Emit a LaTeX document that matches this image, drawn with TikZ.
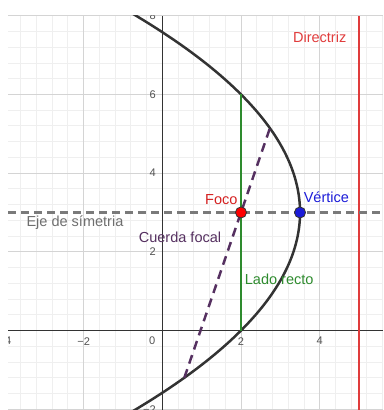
\documentclass[tikz,border=0pt]{standalone}
\usepackage{fontspec}
\setmainfont{Liberation Sans}
\usepackage{xcolor}
\definecolor{curvegray}{HTML}{333333}
\definecolor{minorgray}{HTML}{EFEFEF}
\definecolor{majorgray}{HTML}{D4D4D4}
\definecolor{dirred}{HTML}{E03C3C}
\definecolor{focred}{HTML}{D42020}
\definecolor{vertblue}{HTML}{1C1CD8}
\definecolor{lrgreen}{HTML}{2E8B2E}
\definecolor{chordpurple}{HTML}{553060}
\definecolor{axisgray}{HTML}{7A7A7A}

\begin{document}
\begin{tikzpicture}[
  minorgrid/.style={draw=minorgray,line width=0.6pt},
  majorgrid/.style={draw=majorgray,line width=0.7pt},
  axisline/.style={draw=curvegray,line width=0.7pt},
  ticklabel/.style={text=curvegray!85,font=\fontsize{8}{9}\selectfont,inner sep=0pt},
  curve/.style={draw=curvegray,line width=1.8pt},
  directrix/.style={draw=dirred,line width=1.5pt},
  latus/.style={draw=lrgreen,line width=1.5pt},
  symaxis/.style={draw=axisgray,line width=1.5pt,dash pattern=on 5.8pt off 3.6pt},
  chord/.style={draw=chordpurple,line width=1.8pt,dash pattern=on 6.5pt off 4.3pt},
  pt/.style={circle,draw=curvegray,line width=0.6pt,inner sep=0pt,minimum size=8pt},
  lbl/.style={font=\fontsize{10.5}{12}\selectfont,inner sep=1pt}
]
  \useasboundingbox (-4.125,-2.02) rectangle (5.61,8.40);
  \begin{scope}
  \clip (-3.92,-2.02) rectangle (5.61,8.0);
  % grid
  \draw[minorgrid] (-4.4,-2.4) grid[step=0.4] (5.61,8.0);
  \draw[majorgrid] (-4.4,-2.4) grid[step=2] (5.61,8.0);
  % axes
  \draw[axisline] (-3.92,0) -- (5.61,0);
  \draw[axisline] (0,-2.02) -- (0,8.0);
  % tick labels
  \foreach \xv/\xt in {-4/−4,-2/−2,2/2,4/4}
    \node[ticklabel] (tx\xv) at (\xv,-0.27) {\xt};
  \node[ticklabel] (t0) at (-0.26,-0.27) {0};
  \foreach \yv/\yt in {-2/−2,2/2,4/4,6/6,8/8}
    \node[ticklabel,anchor=east] (ty\yv) at (-0.16,\yv) {\yt};
  % parabola
  \draw[curve,domain=-2.3:8.3,samples=80,smooth] plot ({3.5-(\x-3)^2/6},\x);
  \end{scope}

  % key points
  \coordinate (F) at (2,3);
  \coordinate (V) at (3.5,3);
  \coordinate (D1) at (5,-2.02);
  \coordinate (D2) at (5,8.0);
  \coordinate (LR1) at (2,0);
  \coordinate (LR2) at (2,6);
  \coordinate (E1) at (-3.92,3);
  \coordinate (E2) at (5.61,3);
  \coordinate (C1) at ({3.5-4.2*4.2/6},-1.2);
  \coordinate (C2) at ({3.5-(9/4.2)*(9/4.2)/6},{3+9/4.2});

  \draw[directrix] (D1) -- (D2);
  \draw[latus] (LR1) -- (LR2);
  \draw[symaxis] (E1) -- (E2);
  \draw[chord] (C1) -- (C2);

  \node[pt,fill=red] (foco) at (F) {};
  \node[pt,fill=vertblue] (vertice) at (V) {};

  % labels
  \node[lbl,text=dirred] (ldir) at (4.0,7.46) {Directriz};
  \node[lbl,text=focred] (lfoco) at (1.50,3.32) {Foco};
  \node[lbl,text=vertblue] (lvert) at (4.17,3.39) {Vértice};
  \node[lbl,text=axisgray!90!black] (leje) at (-2.22,2.74) {Eje de símetria};
  \node[lbl,text=chordpurple] (lcuerda) at (0.45,2.36) {Cuerda focal};
  \node[lbl,text=lrgreen] (llado) at (2.97,1.31) {Lado recto};
\end{tikzpicture}
\end{document}
